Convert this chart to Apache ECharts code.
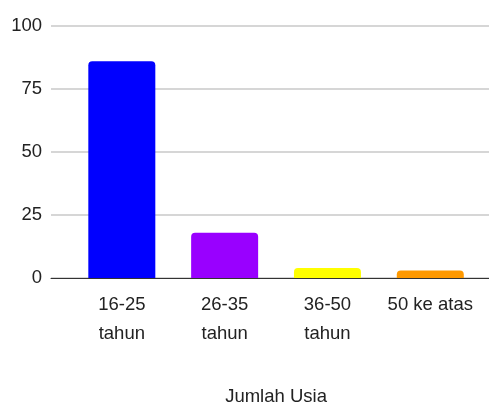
<!DOCTYPE html>
<html>
<head>
<meta charset="utf-8">
<script src="https://cdn.jsdelivr.net/npm/echarts@6/dist/echarts.min.js"></script>
<style>html,body{margin:0;padding:0;background:#fff;}#c{width:489px;height:405px;}</style>
</head>
<body>
<div id="c"></div>
<script>
const categories = ['16-25\ntahun', '26-35\ntahun', '36-50\ntahun', '50 ke atas'];
const values = [86, 18, 4, 3];
const colors = ['#0000ff', '#9900ff', '#ffff00', '#ff9900'];
const yTicks = [0, 25, 50, 75, 100];
const axisTitle = 'Jumlah Usia';

const FONT = '"Liberation Sans", Arial, sans-serif';
const FS = 18.5;
const chart = echarts.init(document.getElementById('c'), null, {renderer: 'canvas'});
chart.setOption({
  animation: false,
  textStyle: {fontFamily: FONT},
  grid: [
    {left: 51, right: 0, top: 26, bottom: 127, containLabel: false, outerBoundsMode: 'none'},
    {left: 70.4, right: 7.3, top: 26, bottom: 127, containLabel: false, outerBoundsMode: 'none'}
  ],
  xAxis: [
    {gridIndex: 0, type: 'category', data: categories,
     axisLine: {show: true, lineStyle: {color: '#333', width: 1}},
     axisTick: {show: false}, axisLabel: {show: false}, splitLine: {show: false}, z: 5},
    {gridIndex: 1, type: 'category', data: categories,
     axisLine: {show: false}, axisTick: {show: false},
     axisLabel: {fontFamily: FONT, fontSize: FS, color: '#222', lineHeight: 29, margin: 12, interval: 0},
     name: axisTitle, nameLocation: 'middle', nameGap: 109,
     nameTextStyle: {fontFamily: FONT, fontSize: FS, color: '#222'}}
  ],
  yAxis: [
    {gridIndex: 0, type: 'value', min: yTicks[0], max: yTicks[yTicks.length - 1], interval: 25,
     axisLine: {show: false}, axisTick: {show: false},
     axisLabel: {fontFamily: FONT, fontSize: FS, color: '#222', margin: 9},
     splitLine: {show: true, lineStyle: {color: '#d6d6d6', width: 2}}},
    {gridIndex: 1, type: 'value', min: yTicks[0], max: yTicks[yTicks.length - 1], interval: 25,
     show: false, splitLine: {show: false}}
  ],
  series: [{
    type: 'bar', xAxisIndex: 1, yAxisIndex: 1,
    barWidth: 67,
    data: values.map((v, i) => ({value: v, itemStyle: {color: colors[i], borderRadius: [4, 4, 0, 0]}})),
    z: 3
  }]
});
</script>
</body>
</html>
